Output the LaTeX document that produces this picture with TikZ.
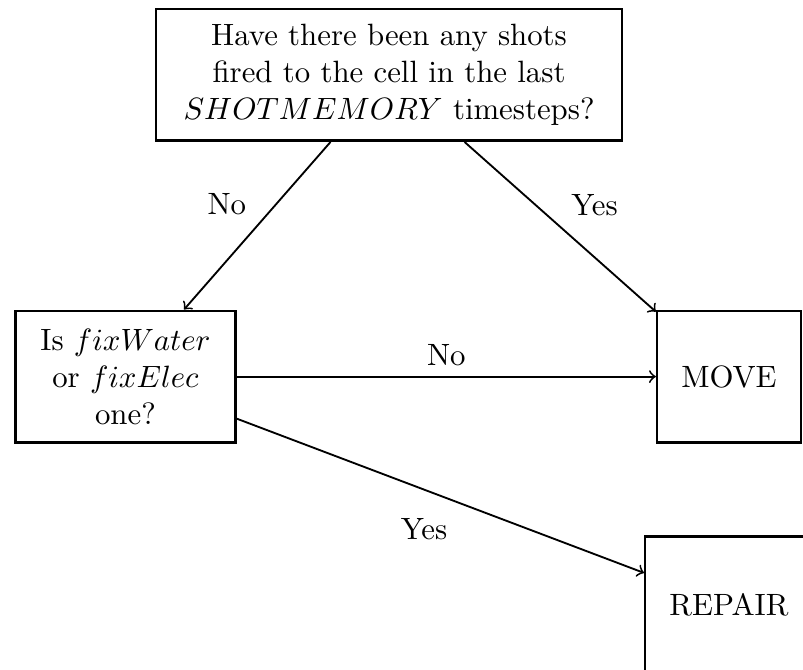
\documentclass[tikz,border=0pt]{standalone}
\usetikzlibrary{positioning}

\begin{document}
\begin{tikzpicture}[
    block/.style={draw, thick, minimum height=1.5cm, align=center},
    line/.style={->, semithick}
]
\useasboundingbox (0,0) rectangle (9.158,-7.630);
\clip (0,0) rectangle (9.158,-7.630);

\node[block, minimum width=5.31cm] (shots) at (4.437,-0.855) {Have there been any shots \\ fired to the cell in the last \\ $SHOTMEMORY$ timesteps?};
\node[block, minimum width=2.51cm, on grid, below left=3.44cm and 3.006cm of shots] (fix) {Is $fixWater$ \\ or $fixElec$ \\ one?};
\node[block, minimum width=1.64cm, on grid, right=6.883cm of fix] (move) {MOVE};
\node[block, minimum width=1.91cm, minimum height=1.56cm, on grid, below=2.605cm of move] (repair) {REPAIR};

\draw[line] (shots) -- node[above left] {No} (fix);
\draw[line] (shots) -- node[above right] {Yes} (move);
\draw[line] (fix) -- node[above] {No} (move);
\draw[line] (fix) -- node[pos=0.46, below=2mm] {Yes} (repair);
\end{tikzpicture}
\end{document}
